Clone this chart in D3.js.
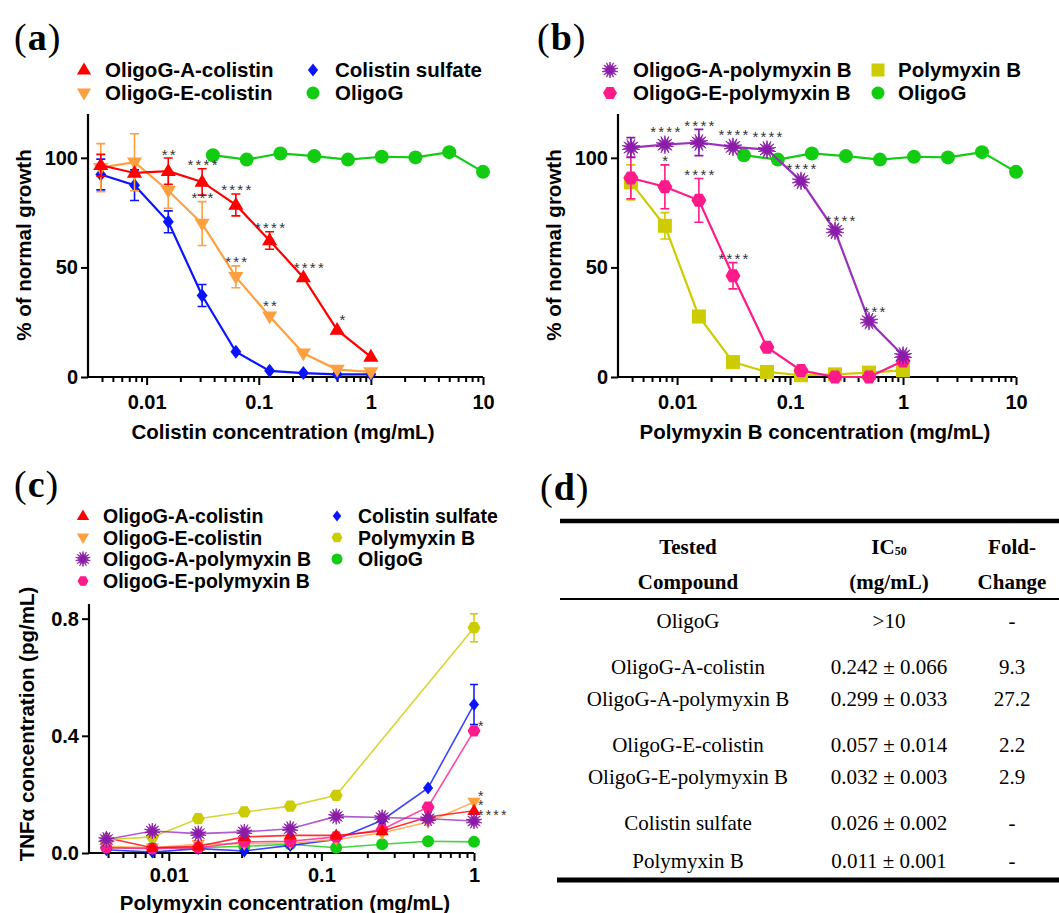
<!DOCTYPE html>
<html><head><meta charset="utf-8">
<script src="https://cdn.jsdelivr.net/npm/d3@7"></script>
<style>body{margin:0;background:#fff} svg{display:block}</style>
</head><body>
<svg id="c" width="1059" height="913"></svg>
<script>
// ---------------- DATA ----------------
const conc = [0.0039, 0.0078, 0.0156, 0.03125, 0.0625, 0.125, 0.25, 0.5, 1];
const concOligoG = [0.039, 0.078, 0.156, 0.3125, 0.625, 1.25, 2.5, 5, 10];
const concPolymyxinC = [0.0039, 0.0078, 0.0156, 0.03125, 0.0625, 0.125, 1];

// panel (a) % of normal growth
const aOligoGAcol = [96.6, 93.1, 93.9, 89.0, 78.5, 62.3, 45.4, 21.5, 9.2];
const aOligoGAcolErr = [5, 3, 6, 6, 5, 4, 2, 2, 1];
const aOligoGAcolStars = ["", "", "**", "****", "****", "****", "****", "*", ""];
const aOligoGEcol = [95.5, 98.0, 85.0, 70.0, 45.7, 27.7, 10.8, 3.4, 2.3];
const aOligoGEcolErr = [11, 13, 8, 10, 5, 3, 1, 1, 0.5];
const aOligoGEcolStars = ["", "", "", "***", "***", "**", "", "", ""];
const aColistin = [92.4, 87.5, 70.8, 37.2, 11.5, 2.8, 1.8, 1.2, 1.2];
const aColistinErr = [7, 7, 5, 5, 1, 0.5, 0.5, 0.5, 0.5];
const oligoGGrowth = [101.2, 99.2, 102.0, 100.8, 99.2, 100.5, 100.2, 102.6, 93.6];

// panel (b)
const bOligoGApmb = [104.7, 106.0, 107.0, 105.0, 103.8, 89.5, 66.7, 25.5, 9.8];
const bOligoGApmbErr = [4.5, 4, 6, 4, 4, 4, 1.5, 1, 1];
const bOligoGApmbStars = ["", "****", "****", "****", "****", "****", "****", "***", ""];
const bOligoGEpmb = [90.8, 86.8, 80.6, 46.2, 13.6, 3.0, 0.0, 0.0, 7.3];
const bOligoGEpmbErr = [9.5, 10, 10, 6, 1, 0.5, 0.5, 0.5, 3];
const bOligoGEpmbStars = ["", "*", "****", "****", "", "", "", "", ""];
const bPolymyxin = [88.8, 69.0, 27.6, 6.8, 2.3, 0.8, 1.2, 2.0, 3.0];
const bPolymyxinErr = [8, 6, 3, 1, 0.5, 0.5, 0.5, 0.5, 1];

// panel (c) TNFα (pg/mL)
const cOligoGAcol = [0.052, 0.018, 0.023, 0.055, 0.060, 0.060, 0.075, 0.123, 0.144];
const cOligoGAcolErr = [0.008, 0.005, 0.005, 0.008, 0.008, 0.006, 0.006, 0.008, 0.015];
const cOligoGEcol = [0.023, 0.018, 0.030, 0.032, 0.034, 0.046, 0.068, 0.106, 0.174];
const cOligoGEcolErr = [0.004, 0.004, 0.004, 0.004, 0.004, 0.004, 0.005, 0.006, 0.010];
const cOligoGApmb = [0.046, 0.075, 0.066, 0.072, 0.083, 0.125, 0.121, 0.117, 0.109];
const cOligoGApmbErr = [0.004, 0.006, 0.005, 0.005, 0.005, 0.006, 0.005, 0.005, 0.005];
const cOligoGEpmb = [0.018, 0.015, 0.018, 0.038, 0.040, 0.055, 0.080, 0.157, 0.417];
const cOligoGEpmbErr = [0.003, 0.003, 0.003, 0.004, 0.004, 0.004, 0.005, 0.008, 0.008];
const cColistin = [0.011, 0.003, 0.015, 0.007, 0.026, 0.046, 0.112, 0.222, 0.507];
const cColistinErr = [0.003, 0.003, 0.003, 0.003, 0.005, 0.005, 0.008, 0.015, 0.068];
const cPolymyxin = [0.045, 0.055, 0.117, 0.140, 0.160, 0.197, 0.769];
const cPolymyxinErr = [0.004, 0.005, 0.015, 0.008, 0.015, 0.008, 0.048];
const cOligoG = [0.018, 0.018, 0.018, 0.023, 0.030, 0.018, 0.030, 0.040, 0.038];
const cOligoGErr = [0.003, 0.003, 0.003, 0.003, 0.003, 0.003, 0.003, 0.004, 0.004];
const cStarLabels = ["*", "*", "*", "****"];
const cStarValues = [0.444, 0.205, 0.174, 0.141];

// axis ticks
const xTickValues = [0.01, 0.1, 1, 10];
const xTickLabels = ["0.01", "0.1", "1", "10"];
const yTickValuesAB = [0, 50, 100];
const yTickLabelsAB = ["0", "50", "100"];
const yTickValuesC = [0, 0.4, 0.8];
const yTickLabelsC = ["0.0", "0.4", "0.8"];

// panel (d) table
const tableCompound = ["OligoG", "OligoG-A-colistin", "OligoG-A-polymyxin B", "OligoG-E-colistin", "OligoG-E-polymyxin B", "Colistin sulfate", "Polymyxin B"];
const tableIC50 = [">10", "0.242 ± 0.066", "0.299 ± 0.033", "0.057 ± 0.014", "0.032 ± 0.003", "0.026 ± 0.002", "0.011 ± 0.001"];
const tableFold = ["-", "9.3", "27.2", "2.2", "2.9", "-", "-"];

// ---------------- STYLE ----------------
const FONT = '"Liberation Sans", Arial, Helvetica, sans-serif';
const SERIF = '"Liberation Serif", "Times New Roman", serif';
const COL = {
  red: "#ff0000", orange: "#ffa040", blue: "#0a14ff", green: "#11cc11",
  pink: "#ff1a8c", purple: "#8a1ca8", yellow: "#cccc00"
};

const svg = d3.select("#c");

// ---------------- SYMBOLS ----------------
function poly(pts) { return "M" + pts.map(p => p[0].toFixed(2) + "," + p[1].toFixed(2)).join("L") + "Z"; }
const shapes = {
  triUp: r => poly([[0, -r], [r * 0.95, r * 0.6], [-r * 0.95, r * 0.6]]),
  triDown: r => poly([[0, r], [r * 0.95, -r * 0.6], [-r * 0.95, -r * 0.6]]),
  diamond: r => poly([[0, -r], [r * 0.78, 0], [0, r], [-r * 0.78, 0]]),
  square: r => poly([[-r, -r], [r, -r], [r, r], [-r, r]]),
  circle: r => `M${r},0A${r},${r} 0 1,1 ${-r},0A${r},${r} 0 1,1 ${r},0Z`,
  hex: r => poly(d3.range(6).map(i => [r * Math.cos(Math.PI / 3 * i), r * Math.sin(Math.PI / 3 * i)])),
  star: r => {
    const n = 14, pts = [];
    for (let i = 0; i < 2 * n; i++) {
      const a = Math.PI * i / n - Math.PI / 2, rr = i % 2 ? r * 0.42 : r;
      pts.push([rr * Math.cos(a), rr * Math.sin(a)]);
    }
    return poly(pts);
  }
};

// ---------------- HELPERS ----------------
function logTicks(domain) {
  const t = [];
  for (let e = -4; e <= 2; e++) for (let k = 1; k <= 9; k++) {
    const v = +(k * Math.pow(10, e)).toPrecision(6);
    if (v > domain[0] * 1.01 && v <= domain[1] * 1.001) t.push(v);
  }
  return t;
}

function drawAxes(g, x, y, yVals, yLabs, xVals, xLabs, xPad) {
  const isMajor = v => xVals.some(m => Math.abs(m - v) / m < 1e-6);
  const xa = g.append("g").attr("transform", `translate(0,${y.range()[0]})`)
    .call(d3.axisBottom(x).tickValues(logTicks(x.domain())).tickSize(8).tickPadding(xPad)
      .tickFormat(v => { const i = xVals.findIndex(m => Math.abs(m - v) / m < 1e-6); return i >= 0 ? xLabs[i] : ""; }));
  xa.selectAll(".tick").filter(v => !isMajor(v)).select("line").attr("y2", 5);
  const ya = g.append("g").attr("transform", `translate(${x.range()[0]},0)`)
    .call(d3.axisLeft(y).tickValues(yVals).tickSize(7).tickPadding(3)
      .tickFormat((v, i) => yLabs[i]));
  [xa, ya].forEach(a => {
    a.select(".domain").attr("stroke", "#000").attr("stroke-width", 2.2);
    a.selectAll(".tick line").attr("stroke", "#000").attr("stroke-width", 2);
    a.selectAll("text").attr("font-family", FONT).attr("font-weight", "bold").attr("font-size", 20).attr("fill", "#000");
  });
  xa.select(".domain").attr("d", `M${x.range()[0]},0H${x.range()[1]}`);
  ya.select(".domain").attr("d", `M0,${y.range()[1]}V${y.range()[0]}`);
}

function drawSeries(g, x, y, xs, vals, errs, color, shape, r, opt = {}) {
  const sg = g.append("g");
  const pts = xs.map((c, i) => [c, vals[i], errs ? errs[i] : 0]);
  sg.append("path").datum(pts)
    .attr("d", d3.line().x(d => x(d[0])).y(d => y(d[1])))
    .attr("fill", "none").attr("stroke", opt.lineColor || color)
    .attr("stroke-width", opt.lw || 2.2).attr("stroke-opacity", opt.lineOpacity || 1);
  const cap = opt.cap || 4.5;
  pts.filter(d => d[2] > 0).forEach(d => {
    const cx = x(d[0]), y1 = y(d[1] + d[2]), y0 = y(Math.max(d[1] - d[2], y.domain()[0] - 1));
    if (Math.abs(y0 - y1) < 2 * r) return;
    sg.append("path").attr("d", `M${cx},${y0}V${y1}M${cx - cap},${y1}H${cx + cap}M${cx - cap},${y0}H${cx + cap}`)
      .attr("stroke", color).attr("stroke-width", opt.ew || 1.6).attr("fill", "none");
  });
  sg.selectAll(".mk").data(pts).join("path")
    .attr("transform", d => `translate(${x(d[0])},${y(d[1])})`)
    .attr("d", shapes[shape](r)).attr("fill", color)
    .attr("stroke", shape === "star" ? color : "none").attr("stroke-width", 0.8);
}

function drawStars(g, x, y, xs, vals, errs, labels) {
  labels.forEach((s, i) => {
    if (!s) return;
    const yc = Math.min(y(vals[i] + errs[i]) - 7, y(vals[i]) - 13);
    const shift = (y(vals[i]) - 13 < y(vals[i] + errs[i]) - 7) ? 5 : 0;
    g.append("text").attr("x", x(xs[i]) + 1.5 + shift).attr("y", yc + 8.5)
      .attr("text-anchor", "middle").attr("font-family", FONT).attr("font-size", 15)
      .attr("letter-spacing", 2.2).attr("fill", "#333").text(s);
  });
}

function legend(g, items, fs) {
  items.forEach(it => {
    g.append("path").attr("transform", `translate(${it.mx},${it.y - 7})`)
      .attr("d", shapes[it.shape](it.r)).attr("fill", it.color)
      .attr("stroke", it.shape === "star" ? it.color : "none").attr("stroke-width", 0.8);
    g.append("text").attr("x", it.tx).attr("y", it.y).attr("font-family", FONT)
      .attr("font-weight", "bold").attr("font-size", fs).attr("fill", "#000").text(it.label);
  });
}

function panelLabel(x, y, letter) {
  const t = svg.append("text").attr("x", x).attr("y", y).attr("font-family", SERIF)
    .attr("font-size", 38).attr("fill", "#000");
  t.append("tspan").text("(");
  t.append("tspan").attr("font-weight", "bold").attr("dx", 1).text(letter);
  t.append("tspan").attr("dx", 1).text(")");
}

function axisTitles(g, xt, xx, xy, yt, yx, yy) {
  g.append("text").attr("x", xx).attr("y", xy).attr("text-anchor", "middle")
    .attr("font-family", FONT).attr("font-weight", "bold").attr("font-size", 20.5).text(xt);
  g.append("text").attr("transform", `translate(${yx},${yy}) rotate(-90)`).attr("text-anchor", "middle")
    .attr("font-family", FONT).attr("font-weight", "bold").attr("font-size", 20.5).text(yt);
}

// ---------------- PANEL (a) ----------------
{
  const g = svg.append("g");
  const x = d3.scaleLog().domain([0.003, 10]).range([88, 483]);
  const y = d3.scaleLinear().domain([0, 120]).range([377, 114]);
  drawAxes(g, x, y, yTickValuesAB, yTickLabelsAB, xTickValues, xTickLabels, 10);
  drawSeries(g, x, y, conc, aColistin, aColistinErr, COL.blue, "diamond", 7);
  drawSeries(g, x, y, conc, aOligoGEcol, aOligoGEcolErr, COL.orange, "triDown", 8);
  drawSeries(g, x, y, conc, aOligoGAcol, aOligoGAcolErr, COL.red, "triUp", 8);
  drawSeries(g, x, y, concOligoG, oligoGGrowth, null, COL.green, "circle", 7);
  drawStars(g, x, y, conc, aOligoGAcol, aOligoGAcolErr, aOligoGAcolStars);
  drawStars(g, x, y, conc, aOligoGEcol, aOligoGEcolErr, aOligoGEcolStars);
  axisTitles(g, "Colistin concentration (mg/mL)", 283, 439, "% of normal growth", 31, 245);
  legend(g, [
    { label: "OligoG-A-colistin", shape: "triUp", r: 7.5, color: COL.red, mx: 84, tx: 105, y: 77 },
    { label: "OligoG-E-colistin", shape: "triDown", r: 7.5, color: COL.orange, mx: 84, tx: 105, y: 100 },
    { label: "Colistin sulfate", shape: "diamond", r: 6.5, color: COL.blue, mx: 313, tx: 335, y: 77 },
    { label: "OligoG", shape: "circle", r: 6.5, color: COL.green, mx: 313, tx: 335, y: 100 }
  ], 20.5);
  panelLabel(14, 50, "a");
}

// ---------------- PANEL (b) ----------------
{
  const g = svg.append("g");
  const x = d3.scaleLog().domain([0.003, 10]).range([618, 1016]);
  const y = d3.scaleLinear().domain([0, 120]).range([377, 114]);
  drawAxes(g, x, y, yTickValuesAB, yTickLabelsAB, xTickValues, xTickLabels, 10);
  drawSeries(g, x, y, conc, bPolymyxin, bPolymyxinErr, COL.yellow, "square", 7);
  drawSeries(g, x, y, conc, bOligoGEpmb, bOligoGEpmbErr, COL.pink, "hex", 7.5);
  drawSeries(g, x, y, concOligoG, oligoGGrowth, null, COL.green, "circle", 7);
  drawSeries(g, x, y, conc, bOligoGApmb, bOligoGApmbErr, COL.purple, "star", 9, { lineColor: "#9b30c0" });
  drawStars(g, x, y, conc, bOligoGApmb, bOligoGApmbErr, bOligoGApmbStars);
  drawStars(g, x, y, conc, bOligoGEpmb, bOligoGEpmbErr, bOligoGEpmbStars);
  axisTitles(g, "Polymyxin B concentration (mg/mL)", 815, 439, "% of normal growth", 561, 245);
  legend(g, [
    { label: "OligoG-A-polymyxin B", shape: "star", r: 8, color: COL.purple, mx: 610, tx: 633, y: 77 },
    { label: "OligoG-E-polymyxin B", shape: "hex", r: 7, color: COL.pink, mx: 610, tx: 633, y: 100 },
    { label: "Polymyxin B", shape: "square", r: 6.5, color: COL.yellow, mx: 878, tx: 898, y: 77 },
    { label: "OligoG", shape: "circle", r: 6.5, color: COL.green, mx: 878, tx: 898, y: 100 }
  ], 20.5);
  panelLabel(537, 50, "b");
}

// ---------------- PANEL (c) ----------------
{
  const g = svg.append("g");
  const x = d3.scaleLog().domain([0.003, 1]).range([89, 474]);
  const y = d3.scaleLinear().domain([0, 0.85]).range([853, 604]);
  drawAxes(g, x, y, yTickValuesC, yTickLabelsC, xTickValues.slice(0, 3), xTickLabels.slice(0, 3), 7);
  const o = { lw: 1.6, lineOpacity: 0.8, ew: 1.5, cap: 4 };
  drawSeries(g, x, y, conc, cOligoG, cOligoGErr, COL.green, "circle", 6, o);
  drawSeries(g, x, y, conc, cColistin, cColistinErr, COL.blue, "diamond", 6.5, o);
  drawSeries(g, x, y, conc, cOligoGEcol, cOligoGEcolErr, COL.orange, "triDown", 7, o);
  drawSeries(g, x, y, conc, cOligoGEpmb, cOligoGEpmbErr, COL.pink, "hex", 6.5, o);
  drawSeries(g, x, y, conc, cOligoGAcol, cOligoGAcolErr, COL.red, "triUp", 7, o);
  drawSeries(g, x, y, concPolymyxinC, cPolymyxin, cPolymyxinErr, COL.yellow, "hex", 6.5, o);
  drawSeries(g, x, y, conc, cOligoGApmb, cOligoGApmbErr, COL.purple, "star", 8, Object.assign({ lineColor: "#9b30c0" }, o));
  const st = g.append("text").attr("font-family", FONT).attr("font-size", 14)
    .attr("letter-spacing", 2.2).attr("fill", "#333");
  cStarLabels.forEach((s, i) => {
    st.append("tspan").attr("x", x(1) + 4).attr("y", y(cStarValues[i]) + 8).text(s);
  });
  axisTitles(g, "Polymyxin concentration (mg/mL)", 285, 910, "TNFα concentration (pg/mL)", 34, 724);
  legend(g, [
    { label: "OligoG-A-colistin", shape: "triUp", r: 6.5, color: COL.red, mx: 83, tx: 103, y: 523 },
    { label: "OligoG-E-colistin", shape: "triDown", r: 6.5, color: COL.orange, mx: 83, tx: 103, y: 544.5 },
    { label: "OligoG-A-polymyxin B", shape: "star", r: 7.5, color: COL.purple, mx: 83, tx: 103, y: 566 },
    { label: "OligoG-E-polymyxin B", shape: "hex", r: 5.5, color: COL.pink, mx: 83, tx: 103, y: 588 },
    { label: "Colistin sulfate", shape: "diamond", r: 5.5, color: COL.blue, mx: 337, tx: 358, y: 523 },
    { label: "Polymyxin B", shape: "hex", r: 5.5, color: COL.yellow, mx: 337, tx: 358, y: 544.5 },
    { label: "OligoG", shape: "circle", r: 5.5, color: COL.green, mx: 337, tx: 358, y: 566 }
  ], 19.5);
  panelLabel(14, 497, "c");
}

// ---------------- PANEL (d) TABLE ----------------
{
  const g = svg.append("g");
  const colX = [688, 889, 1012];
  const rowY = [628, 674, 706, 752, 784, 830, 868];
  g.append("line").attr("x1", 560).attr("x2", 1059).attr("y1", 521).attr("y2", 521).attr("stroke", "#000").attr("stroke-width", 4.5);
  g.append("line").attr("x1", 560).attr("x2", 1059).attr("y1", 599).attr("y2", 599).attr("stroke", "#000").attr("stroke-width", 2.2);
  g.append("line").attr("x1", 557).attr("x2", 1059).attr("y1", 880).attr("y2", 880).attr("stroke", "#000").attr("stroke-width", 5);
  const txt = (x, y, s, bold) => g.append("text").attr("x", x).attr("y", y).attr("text-anchor", "middle")
    .attr("font-family", SERIF).attr("font-size", 21).attr("font-weight", bold ? "bold" : "normal").attr("fill", "#000").text(s);
  txt(colX[0], 554, "Tested", true);
  txt(colX[0], 589, "Compound", true);
  const ic = txt(colX[1], 554, "IC", true);
  ic.append("tspan").attr("font-size", 12).attr("dy", 1).text("50");
  txt(colX[1], 589, "(mg/mL)", true);
  txt(colX[2], 554, "Fold-", true);
  txt(colX[2], 589, "Change", true);
  tableCompound.forEach((c, i) => {
    txt(colX[0], rowY[i], c, false);
    txt(colX[1], rowY[i], tableIC50[i], false);
    txt(colX[2], rowY[i], tableFold[i], false);
  });
  panelLabel(540, 500, "d");
}
</script>
</body></html>
